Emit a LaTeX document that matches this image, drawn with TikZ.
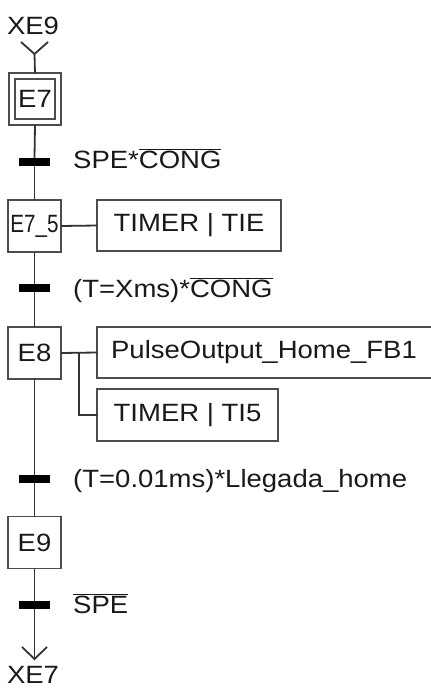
\documentclass[tikz,border=0pt]{standalone}
\usepackage{fontspec}
\setmainfont[FakeStretch=1.1]{Liberation Sans}
\newcommand\ovl[1]{$\overline{\mbox{#1}}$}
\begin{document}
\begin{tikzpicture}[x=1pt,y=-1pt,
  every node/.style={font=\fontsize{25}{28}\selectfont, text=black!90},
  stepbox/.style={draw=black!70, line width=1.8pt, minimum width=53pt, minimum height=52pt, inner sep=0pt, outer sep=0pt},
  actbox/.style={draw=black!70, line width=1.8pt, minimum height=51pt, inner sep=0pt, outer sep=0pt},
  transbar/.style={fill=black, minimum width=31pt, minimum height=8pt, inner sep=0pt, outer sep=0pt},
  conn/.style={draw=black!80, line width=1.8pt},
  lbl/.style={anchor=base west, inner sep=0pt}]
\clip (0,0) rectangle (431,688);
\useasboundingbox (0,0) rectangle (431,688);

% top label and entry
\node[anchor=base, inner sep=0pt] (xe9) at (33,34) {XE9};
\coordinate (vl) at (21,42);
\coordinate (vtip) at (34.5,54);
\coordinate (vr) at (48,42);

% steps
\node[stepbox, minimum width=52pt, minimum height=52pt] (E7) at (35,99) {};
\node[stepbox, minimum width=40pt, minimum height=40pt] (E7in) at (35,99) {E7};
\node[stepbox] (E75) at (34.5,226) {\scalebox{0.75}[1]{E7\_5}};
\node[stepbox] (E8) at (34.5,353) {E8};
\node[stepbox] (E9) at (34.5,542.5) {E9};

% transitions
\node[transbar] (t1) at (34.5,162) {};
\node[transbar] (t2) at (34.5,288) {};
\node[transbar] (t3) at (34.5,479) {};
\node[transbar] (t4) at (34.5,605) {};

% transition labels
\node[lbl] (c1) at (73,168) {SPE*\ovl{CONG}};
\node[lbl] (c2) at (73,297) {(T=Xms)*\ovl{CONG}};
\node[lbl] (c3) at (73,487) {(T=0.01ms)*Llegada\_home};
\node[lbl] (c4) at (73,613) {\ovl{SPE}};

% actions
\node[actbox, minimum width=184pt] (a1) at (189,225.5) {TIMER | TIE};
\node[actbox, minimum width=345pt, anchor=west] (a2) at (97,352.5) {\hspace*{-11pt}PulseOutput\_Home\_FB1};
\node[actbox, minimum width=181pt, minimum height=52pt] (a3) at (187.5,415) {TIMER | TI5};

% exit
\coordinate (btip) at (34.5,659);
\coordinate (bl) at (22,647);
\coordinate (br) at (47,647);
\node[anchor=base, inner sep=0pt] (xe7) at (33,683.5) {XE7};

% connectors
\draw[conn] (vl) -- (vtip) -- (vr);
\draw[conn] (vtip) -- (E7.north);
\draw[conn] (E7.south) -- (t1.north);
\draw[conn] (t1.south) -- (E75.north);
\draw[conn] (E75.south) -- (t2.north);
\draw[conn] (t2.south) -- (E8.north);
\draw[conn] (E8.south) -- (t3.north);
\draw[conn] (t3.south) -- (E9.north);
\draw[conn] (E9.south) -- (t4.north);
\draw[conn] (t4.south) -- (btip);
\draw[conn] (bl) -- (btip) -- (br);
\draw[conn] (E75.east) -- (a1.west);
\draw[conn] (E8.east) -- (a2.west);
\coordinate (br8) at (79,353);
\draw[conn] (br8) |- (a3.west);
\end{tikzpicture}
\end{document}
